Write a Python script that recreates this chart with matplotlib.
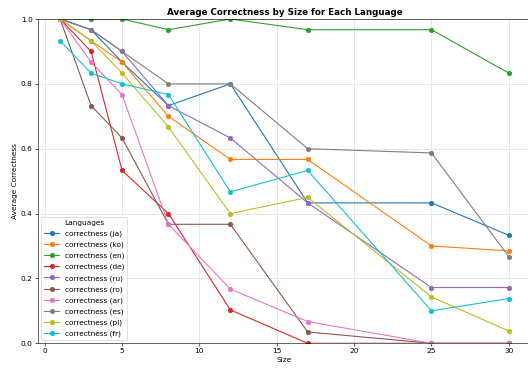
import matplotlib
matplotlib.use("Agg")
import matplotlib.pyplot as plt

# sizes on the x axis
sizes = [1, 3, 5, 8, 12, 17, 25, 30]

# average correctness per language
ja = [1.0, 0.967, 0.867, 0.733, 0.8, 0.433, 0.433, 0.333]
ko = [1.0, 0.933, 0.867, 0.7, 0.567, 0.567, 0.3, 0.285]
en = [1.0, 1.0, 1.0, 0.967, 1.0, 0.967, 0.967, 0.833]
de = [1.0, 0.9, 0.533, 0.4, 0.103, 0.0, 0.0, 0.0]
ru = [1.0, 0.967, 0.9, 0.733, 0.633, 0.433, 0.172, 0.172]
ro = [1.0, 0.733, 0.633, 0.367, 0.367, 0.035, 0.0, 0.0]
ar = [1.0, 0.867, 0.767, 0.367, 0.167, 0.067, 0.0, 0.0]
es = [1.0, 0.967, 0.9, 0.8, 0.8, 0.6, 0.587, 0.267]
pl = [1.0, 0.933, 0.833, 0.667, 0.4, 0.45, 0.143, 0.038]
fr = [0.933, 0.833, 0.8, 0.767, 0.467, 0.533, 0.1, 0.138]

languages = ["ja", "ko", "en", "de", "ru", "ro", "ar", "es", "pl", "fr"]
series = [ja, ko, en, de, ru, ro, ar, es, pl, fr]

DPI = 52.8
fig = plt.figure(figsize=(528 / DPI, 368 / DPI), dpi=DPI)
ax = fig.add_axes([37.7 / 528, 1 - 343.3 / 368, (531.3 - 37.7) / 528, (343.3 - 19) / 368])

for lang, vals in zip(languages, series):
    ax.plot(sizes, vals, marker="o", label=f"correctness ({lang})")

ax.set_ylim(0, 1)
ax.set_title("Average Correctness by Size for Each Language", fontsize=12, fontweight="bold")
ax.set_xlabel("Size")
ax.set_ylabel("Average Correctness")
ax.grid(True, alpha=0.5)
ax.legend(title="Languages", loc="lower left", labelspacing=0.6)

fig.savefig("out.png", dpi=DPI)
